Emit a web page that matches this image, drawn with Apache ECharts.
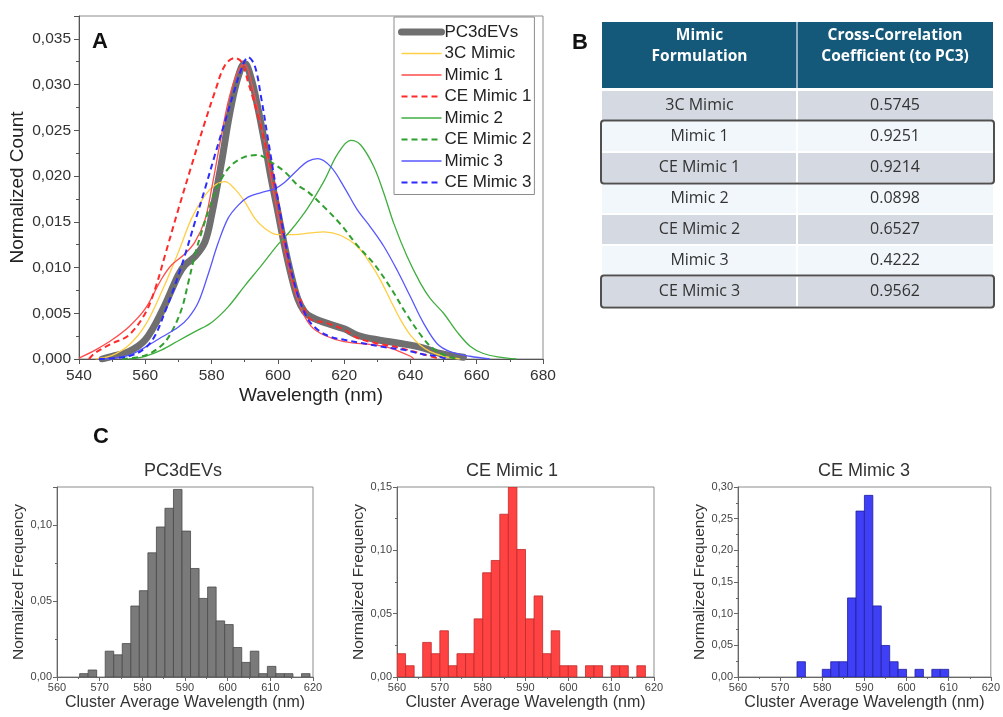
<!DOCTYPE html>
<html><head><meta charset="utf-8">
<script src="https://cdn.jsdelivr.net/npm/echarts@6/dist/echarts.min.js"></script>
<style>html,body{margin:0;padding:0;background:#fff}#c{width:1003px;height:717px}</style>
</head><body><div id="c"></div><script>
// ---------- Panel A data: [wavelength nm, normalized count] ----------
const seriesNames = ['PC3dEVs','3C Mimic','Mimic 1','CE Mimic 1','Mimic 2','CE Mimic 2','Mimic 3','CE Mimic 3'];
const pc3dEVs = [[547,0],[550,0.0003],[555,0.0008],[560,0.0021],[565,0.0052],[570,0.0092],[572,0.0103],[575,0.0112],[578,0.0128],[580,0.0157],[583,0.0215],[585,0.0259],[587,0.0295],[589,0.0319],[590,0.0323],[592,0.0306],[594,0.0274],[596,0.0237],[598,0.0197],[600,0.0161],[602,0.0124],[604,0.0092],[606,0.0066],[608,0.0052],[610,0.0046],[614,0.004],[620,0.0033],[624,0.0026],[630,0.0021],[637,0.0017],[644,0.0012],[649,0.0006],[656,0.0002]];
const mimic3C = [[545,0],[550,0.0004],[555,0.0015],[560,0.0037],[565,0.0074],[570,0.0117],[574,0.0154],[578,0.0179],[581,0.019],[584,0.0194],[587,0.0186],[590,0.0172],[593,0.0154],[596,0.0143],[600,0.0136],[605,0.0136],[610,0.0138],[614,0.0139],[619,0.0135],[624,0.0123],[628,0.0104],[631,0.0086],[634,0.0064],[637,0.0043],[640,0.0026],[643,0.0015],[646,0.0008],[650,0.0003],[655,0]];
const mimic1 = [[540,0.0001],[545,0.001],[550,0.0021],[555,0.0035],[560,0.0055],[565,0.0088],[568,0.0103],[572,0.0115],[575,0.0128],[578,0.0152],[580,0.0186],[583,0.0245],[585,0.0281],[587,0.0306],[589,0.0321],[590,0.0322],[592,0.0303],[596,0.0236],[600,0.0157],[604,0.0088],[607,0.0055],[610,0.0036],[614,0.0026],[620,0.0019],[630,0.0015],[634,0.0012],[640,0.0003],[641,0]];
const ceMimic1 = [[543,0],[545,0.0007],[550,0.0017],[555,0.0026],[560,0.005],[563,0.0077],[566,0.0114],[570,0.0164],[574,0.0212],[578,0.0259],[581,0.0292],[584,0.0321],[587,0.0329],[589,0.0325],[591,0.0303],[594,0.0266],[597,0.0223],[600,0.0172],[604,0.0092],[608,0.0055],[610,0.0043],[614,0.004],[620,0.0032],[624,0.0023],[630,0.0017],[637,0.0012],[644,0.0005],[649,0]];
const mimic2 = [[555,0],[560,0.0003],[565,0.001],[570,0.002],[575,0.003],[580,0.004],[585,0.0057],[590,0.008],[595,0.0102],[600,0.0125],[604,0.0141],[609,0.0165],[614,0.0195],[618,0.0224],[622,0.0239],[625,0.0234],[629,0.021],[632,0.0181],[635,0.0148],[639,0.0112],[643,0.0083],[646,0.0066],[650,0.005],[654,0.003],[658,0.0014],[662,0.0006],[667,0.0002],[672,0]];
const ceMimic2 = [[553,0],[560,0.0004],[565,0.0015],[568,0.003],[571,0.0055],[573,0.0084],[575,0.0114],[577,0.0139],[580,0.0172],[583,0.0197],[586,0.0212],[590,0.0221],[594,0.0223],[598,0.0215],[602,0.0205],[606,0.019],[609,0.0183],[614,0.0166],[619,0.0147],[624,0.0124],[629,0.0104],[634,0.0078],[639,0.0048],[644,0.0022],[647,0.0011],[651,0.0003],[655,0]];
const mimic3 = [[548,0],[555,0.0004],[560,0.0013],[565,0.0024],[570,0.0035],[573,0.0045],[576,0.0062],[579,0.0093],[582,0.0127],[585,0.0154],[588,0.0168],[591,0.0177],[595,0.0182],[599,0.0186],[602,0.0193],[606,0.0207],[609,0.0216],[612,0.0219],[616,0.021],[620,0.0188],[624,0.0163],[628,0.0144],[632,0.0123],[636,0.0097],[640,0.0068],[644,0.0039],[648,0.0017],[652,0.0008],[658,0.0003],[664,0]];
const ceMimic3 = [[546,0],[555,0.0003],[560,0.0012],[563,0.0026],[566,0.0052],[569,0.0081],[572,0.0114],[575,0.015],[578,0.0186],[581,0.0223],[584,0.0259],[587,0.0295],[589,0.0317],[591,0.033],[593,0.0321],[595,0.0285],[597,0.0241],[600,0.0175],[603,0.0114],[606,0.007],[609,0.0044],[612,0.0032],[616,0.0024],[620,0.0021],[626,0.0017],[632,0.0013],[638,0.001],[644,0.0005],[648,0.0003],[651,0]];

// ---------- Panel B data ----------
const tableHeaders = ['Mimic\nFormulation','Cross-Correlation\nCoefficient (to PC3)'];
const tableNames = ['3C Mimic','Mimic 1','CE Mimic 1','Mimic 2','CE Mimic 2','Mimic 3','CE Mimic 3'];
const tableCoefs = ['0.5745','0.9251','0.9214','0.0898','0.6527','0.4222','0.9562'];
const outlinedGroups = [[1,2],[6]];

// ---------- Panel C data: bin centers (nm) and normalized frequency ----------
const binWidth = 2;
const histTitles = ['PC3dEVs','CE Mimic 1','CE Mimic 3'];
const pc3Centers = [566.3,568.3,570.3,572.3,574.3,576.3,578.3,580.3,582.3,584.3,586.3,588.3,590.3,592.3,594.3,596.3,598.3,600.3,602.3,604.3,606.3,608.3,610.3,612.3,614.3,616.3,618.3];
const pc3Freq = [0.0022,0.0046,0,0.017,0.0146,0.022,0.0467,0.0568,0.0817,0.0987,0.111,0.1234,0.096,0.0714,0.0517,0.0592,0.0369,0.0345,0.0194,0.0096,0.017,0.0022,0.007,0.0022,0.0022,0,0.0022];
const ce1Centers = [561,563,565,567,569,571,573,575,577,579,581,583,585,587,589,591,593,595,597,599,601,603,605,607,609,611,613,615,617];
const ce1Freq = [0.0184,0.0089,0,0.0273,0.0184,0.0365,0.0089,0.0184,0.0184,0.0459,0.0823,0.092,0.1285,0.15,0.1007,0.0459,0.064,0.0184,0.0365,0.0089,0.0089,0,0.0089,0.0089,0,0.0089,0.0089,0,0.0089];
const ce3Centers = [575,581,583,585,587,589,591,593,595,597,599,603,607,609];
const ce3Freq = [0.0241,0.0121,0.0241,0.0241,0.1248,0.262,0.2868,0.1122,0.0498,0.0241,0.0121,0.0121,0.0121,0.0121];
const histYMax = [0.125, 0.15, 0.30];
const histXTicks = {min:560, max:620, interval:10};
const specYTicks = {min:0, max:0.0375, interval:0.005};
const specXTicks = {min:540, max:680, interval:20};

// ---------- build ----------
const FONT = '"Liberation Sans", Arial, sans-serif';
const TFONT = '"Open Sans", sans-serif';
const chart = echarts.init(document.getElementById('c'), null, {renderer:'canvas'});

const lineStyles = [
  {color:'#6f6f6f', width:7, type:'solid', cap:'round', join:'round'},
  {color:'#FFCE45', width:1.3, type:'solid'},
  {color:'#FF4B4B', width:1.3, type:'solid'},
  {color:'#FF2B2B', width:2, type:[6,4]},
  {color:'#3FAE3F', width:1.3, type:'solid'},
  {color:'#2F9F2F', width:2, type:[6,4]},
  {color:'#5757FF', width:1.3, type:'solid'},
  {color:'#2B2BFF', width:2, type:[6,4]}
];
const specData = [pc3dEVs, mimic3C, mimic1, ceMimic1, mimic2, ceMimic2, mimic3, ceMimic3];

const grids = [
  {left:79, top:16, width:464, height:343},
  {left:57, top:487, width:256, height:190},
  {left:397, top:487, width:257, height:190},
  {left:738, top:487, width:257, height:190}
].map(g => Object.assign({show:true, borderColor:'#8c8c8c', borderWidth:1, backgroundColor:'transparent'}, g));

const axisCommon = (color) => ({
  axisLine:{onZero:false, lineStyle:{color:color, width:1}},
  axisTick:{show:true, inside:false, length:5, lineStyle:{color:color}},
  minorTick:{show:true, splitNumber:2, length:3, lineStyle:{color:color}},
  splitLine:{show:false}
});

const xAxes = [Object.assign({
  gridIndex:0, type:'value', min:specXTicks.min, max:specXTicks.max, interval:specXTicks.interval,
  axisLabel:{fontSize:15.5, color:'#333', margin:9, fontFamily:FONT},
  name:'Wavelength (nm)', nameLocation:'middle', nameGap:27,
  nameTextStyle:{fontSize:19, color:'#222', fontFamily:FONT}
}, axisCommon('#555'))];
const yAxes = [Object.assign({
  gridIndex:0, type:'value', min:specYTicks.min, max:specYTicks.max, interval:specYTicks.interval,
  axisLabel:{fontSize:15.5, color:'#333', margin:8, fontFamily:FONT, showMaxLabel:false,
    formatter:v => v.toFixed(3).replace('.', ',')},
  name:'Normalized Count', nameLocation:'middle', nameGap:52, nameRotate:90,
  nameTextStyle:{fontSize:19, color:'#222', fontFamily:FONT}
}, axisCommon('#555'))];
for (let i = 0; i < 3; i++) {
  const ac = axisCommon('#666');
  ac.axisTick.length = 4; ac.minorTick.length = 2;
  xAxes.push(Object.assign({
    gridIndex:i+1, type:'value', min:histXTicks.min, max:histXTicks.max, interval:histXTicks.interval,
    axisLabel:{fontSize:11, color:'#444', margin:5, fontFamily:FONT},
    name:'Cluster Average Wavelength (nm)', nameLocation:'middle', nameGap:18,
    nameTextStyle:{fontSize:16, color:'#333', fontFamily:FONT}
  }, ac));
  const ac2 = axisCommon('#666');
  ac2.axisTick.length = 4; ac2.minorTick.length = 2;
  const onTick = Math.abs(histYMax[i]/0.05 - Math.round(histYMax[i]/0.05)) < 1e-6;
  yAxes.push(Object.assign({
    gridIndex:i+1, type:'value', min:0, max:histYMax[i], interval:0.05,
    axisLabel:{fontSize:11, color:'#444', margin:5, fontFamily:FONT, showMaxLabel:onTick,
      formatter:v => v.toFixed(2).replace('.', ',')},
    name:'Normalized Frequency', nameLocation:'middle', nameGap:26, nameRotate:90,
    nameTextStyle:{fontSize:15.5, color:'#333', fontFamily:FONT}
  }, ac2));
}

const series = specData.map((d, i) => ({
  name: seriesNames[i], type:'line', xAxisIndex:0, yAxisIndex:0, data:d,
  smooth:0.35, showSymbol:false, symbol:'none', lineStyle:lineStyles[i],
  itemStyle:{color:lineStyles[i].color}, z: 2 + i, silent:true
}));

function histRender(params, api) {
  const c = api.value(0), v = api.value(1);
  if (!v) return null;
  const p0 = api.coord([c - binWidth/2, v]);
  const p1 = api.coord([c + binWidth/2, 0]);
  return {type:'rect', shape:{x:p0[0], y:p0[1], width:p1[0]-p0[0], height:p1[1]-p0[1]}, style:api.style()};
}
const histSets = [[pc3Centers, pc3Freq], [ce1Centers, ce1Freq], [ce3Centers, ce3Freq]];
const histColors = [['#7a7a7a','#4a4a4a'], ['#FF4242','#C02A2A'], ['#3F3FF5','#2020A0']];
histSets.forEach((hs, i) => {
  series.push({
    type:'custom', xAxisIndex:i+1, yAxisIndex:i+1, renderItem:histRender, clip:true,
    data: hs[0].map((c, k) => [c, hs[1][k]]),
    itemStyle:{color:histColors[i][0], borderColor:histColors[i][1], borderWidth:0.8},
    silent:true
  });
});

// ---------- graphics: panel letters, hist titles, table ----------
const graphic = [];
const letter = (t, x, y) => ({type:'text', x, y, style:{text:t, font:'bold 22px ' + FONT, fill:'#111', align:'center', verticalAlign:'middle'}});
graphic.push(letter('A', 100, 42), letter('B', 580, 43), letter('C', 101, 437));
const titleX = [183, 512, 864];
histTitles.forEach((t, i) => graphic.push({type:'text', x:titleX[i], y:471,
  style:{text:t, font:'18px ' + FONT, fill:'#333', align:'center', verticalAlign:'middle'}}));

const T = {left:602, right:993, div:797, headTop:22, headH:66, rowTop:91, rowPitch:31, rowH:29};
graphic.push({type:'rect', shape:{x:T.left, y:T.headTop, width:T.right-T.left, height:T.headH}, style:{fill:'#14587A'}});
graphic.push({type:'rect', shape:{x:T.div-1, y:T.headTop, width:2, height:T.headH}, style:{fill:'#8FB0C4'}});
const colC = [(T.left + T.div)/2, (T.div + T.right)/2];
tableHeaders.forEach((h, j) => graphic.push({type:'text', x:colC[j], y:T.headTop + T.headH/2 - 9,
  style:{text:h, font:'bold 15.5px ' + TFONT, fill:'#fff', align:'center', verticalAlign:'middle', lineHeight:21}}));
tableNames.forEach((n, i) => {
  const y = T.rowTop + i*T.rowPitch;
  const fill = i % 2 === 0 ? '#D5DAE2' : '#F2F7FC';
  graphic.push({type:'rect', shape:{x:T.left, y, width:T.div-1-T.left, height:T.rowH}, style:{fill}});
  graphic.push({type:'rect', shape:{x:T.div+1, y, width:T.right-T.div-1, height:T.rowH}, style:{fill}});
  graphic.push({type:'text', x:colC[0], y:y + T.rowH/2, style:{text:n, font:'16px ' + TFONT, fill:'#333', align:'center', verticalAlign:'middle'}});
  graphic.push({type:'text', x:colC[1], y:y + T.rowH/2, style:{text:tableCoefs[i], font:'16px ' + TFONT, fill:'#333', align:'center', verticalAlign:'middle'}});
});
outlinedGroups.forEach(g => {
  const y0 = T.rowTop + g[0]*T.rowPitch - 1.5;
  const y1 = T.rowTop + g[g.length-1]*T.rowPitch + T.rowH + 1.5;
  graphic.push({type:'rect', shape:{x:T.left-1, y:y0, width:T.right-T.left+2, height:y1-y0, r:3},
    style:{fill:'none', stroke:'#505050', lineWidth:2}, z:10});
});

chart.setOption({
  backgroundColor:'#fff',
  animation:false,
  textStyle:{fontFamily:FONT},
  grid:grids,
  xAxis:xAxes,
  yAxis:yAxes,
  legend:{
    data:seriesNames, orient:'vertical', left:394, top:17,
    padding:[6,3,3,4], itemWidth:40, itemHeight:12, itemGap:3.5,
    borderColor:'#8c8c8c', borderWidth:1, selectedMode:false,
    itemStyle:{opacity:0},
    lineStyle:{width:'inherit'},
    textStyle:{fontSize:17, color:'#222', fontFamily:FONT, lineHeight:18, padding:[0,0,0,-2]}
  },
  series:series,
  graphic:graphic
});
</script></body></html>
